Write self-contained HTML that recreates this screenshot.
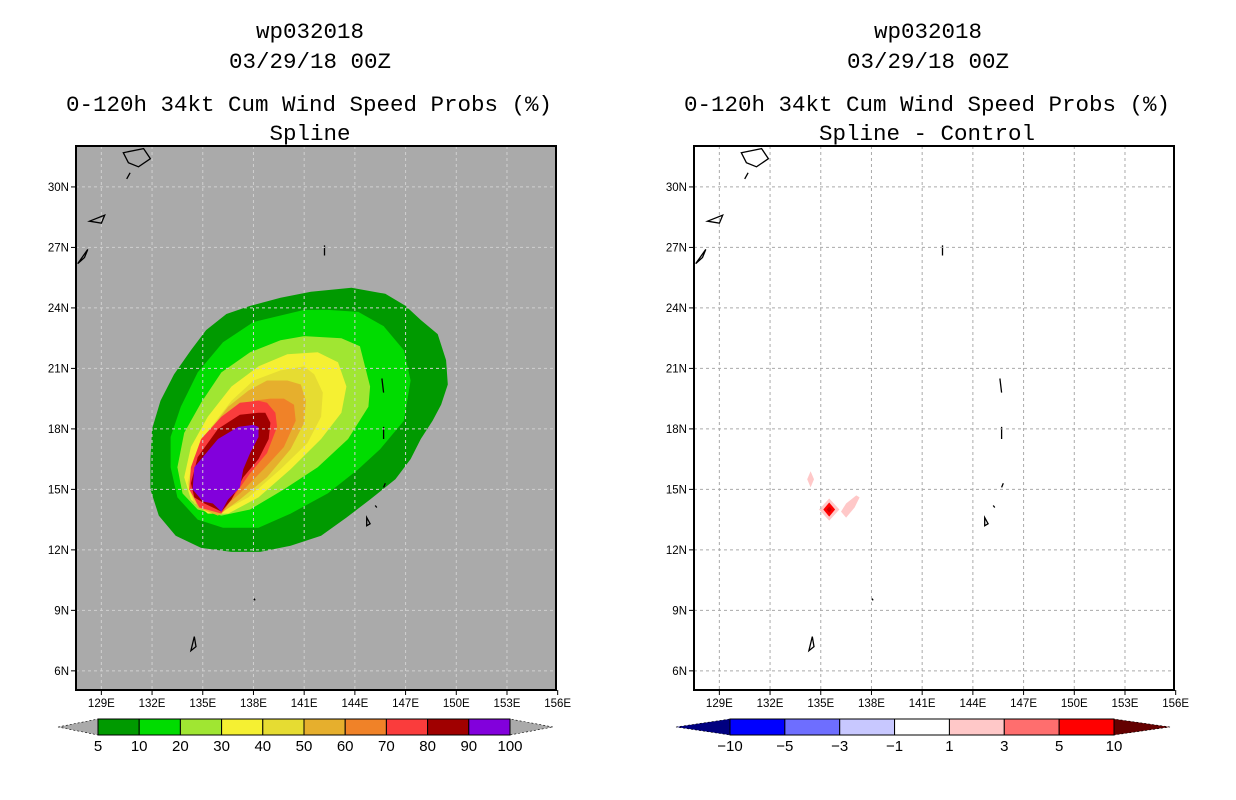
<!DOCTYPE html>
<html><head><meta charset="utf-8"><style>
html,body{margin:0;padding:0;background:#fff;}
svg{display:block;}
text{font-family:"Liberation Mono","DejaVu Sans Mono",monospace;}
text.tk{font-family:"Liberation Sans","DejaVu Sans",sans-serif;}
</style></head><body>
<svg id="fig" width="1236" height="800" viewBox="0 0 1236 800" xmlns="http://www.w3.org/2000/svg">
<g font-size="22.5" text-anchor="middle" fill="#000">
<text x="310" y="38">wp032018</text>
<text x="310" y="68">03/29/18 00Z</text>
<text x="309" y="111">0-120h 34kt Cum Wind Speed Probs (%)</text>
<text x="310" y="140">Spline</text>
</g>
<g font-size="22.5" text-anchor="middle" fill="#000">
<text x="928" y="38">wp032018</text>
<text x="928" y="68">03/29/18 00Z</text>
<text x="927" y="111">0-120h 34kt Cum Wind Speed Probs (%)</text>
<text x="927" y="140">Spline - Control</text>
</g>
<g id="left"></g>
<g id="right"></g>
<g id="cbl"></g>
<g id="cbr"></g>
</svg>
<script>
const NS="http://www.w3.org/2000/svg";
const latTicks=[30,27,24,21,18,15,12,9,6];
const lonTicks=[129,132,135,138,141,144,147,150,153,156];
const probLevels=[5,10,20,30,40,50,60,70,80,90,100];
const probColors=["#009a00","#00dc00","#a0e632","#f5f032","#e6dc32","#e6af2d","#f08228","#fa3c3c","#a00000","#8200dc"];
const diffLevels=[-10,-5,-3,-1,1,3,5,10];
const diffColors=["#0000ff","#6e6eff","#c8c8ff","#ffffff","#ffc8c8","#ff6e6e","#ff0000"];
const c5=[[143.8,25.0],[145.8,24.7],[147.0,24.1],[147.9,23.4],[148.9,22.7],[149.4,21.4],[149.5,20.2],[149.1,19.2],[148.6,18.4],[147.9,17.5],[147.3,16.5],[146.4,15.5],[144.9,14.5],[143.5,13.6],[142.0,12.7],[140.2,12.2],[138.4,11.9],[136.7,11.9],[134.9,12.1],[133.4,12.7],[132.4,13.7],[131.9,15.0],[131.9,16.5],[132.0,18.0],[132.5,19.4],[133.3,20.7],[134.3,21.9],[135.2,22.9],[136.4,23.7],[137.8,24.1],[139.6,24.5],[141.4,24.8]];
const c10=[[141.0,23.9],[138.0,23.3],[136.2,22.3],[134.7,20.8],[133.7,19.1],[133.1,17.6],[133.1,16.1],[133.5,14.6],[134.7,13.5],[136.2,13.1],[138.3,13.1],[140.2,13.8],[142.4,14.8],[144.2,16.0],[145.5,17.0],[146.9,18.4],[147.3,20.4],[146.9,21.9],[145.7,23.1],[144.2,23.8],[142.4,23.9]];
const c20=[[141.0,22.6],[139.6,22.4],[137.8,21.8],[136.1,20.8],[134.9,19.3],[133.9,17.8],[133.5,16.1],[133.8,14.8],[134.7,14.0],[136.1,13.7],[137.8,14.0],[139.8,15.0],[141.8,16.1],[143.6,17.5],[144.8,19.1],[144.9,20.1],[144.3,22.1],[143.2,22.5]];
const c30=[[141.8,21.8],[140.0,21.7],[138.3,21.1],[136.7,20.1],[135.3,18.6],[134.3,17.1],[133.9,15.6],[134.3,14.5],[135.3,13.8],[136.5,13.8],[138.3,14.6],[140.2,16.0],[142.0,17.5],[143.2,18.8],[143.5,20.1],[143.0,21.3]];
const c40=[[141.0,21.1],[139.6,20.9],[138.0,20.4],[136.7,19.4],[135.5,18.1],[134.5,16.6],[134.1,15.3],[134.5,14.3],[135.9,13.8],[137.7,14.6],[139.6,16.0],[141.2,17.3],[142.0,18.6],[142.1,19.8],[141.6,20.7]];
const c50=[[140.0,20.4],[138.8,20.4],[137.7,19.9],[136.5,19.1],[135.3,17.8],[134.5,16.5],[134.3,15.1],[134.7,14.1],[135.9,13.7],[137.2,14.5],[138.8,15.6],[140.2,17.0],[141.0,18.3],[141.1,19.4],[140.8,20.2]];
const c60=[[139.0,19.5],[138.0,19.4],[136.8,18.8],[135.7,17.8],[134.7,16.6],[134.3,15.3],[134.7,14.3],[136.1,14.0],[137.2,14.8],[138.6,16.0],[139.8,17.1],[140.5,18.4],[140.4,19.2],[139.8,19.5]];
const c70=[[138.3,19.4],[137.2,19.3],[136.1,18.6],[134.9,17.5],[134.3,16.1],[134.2,15.0],[134.8,14.1],[136.1,13.8],[136.7,14.5],[137.8,15.8],[138.8,16.8],[139.4,18.1],[139.3,18.8],[138.8,19.3]];
const c80=[[138.3,18.8],[137.2,18.7],[135.9,18.0],[134.7,16.6],[134.3,15.3],[134.5,14.6],[135.1,14.3],[136.1,13.9],[136.7,14.5],[137.4,15.6],[138.3,16.5],[138.9,17.5],[139.0,18.3],[138.7,18.8]];
const c90=[[138.0,18.2],[137.1,18.1],[135.9,17.5],[134.5,16.1],[134.4,15.0],[135.0,14.4],[135.6,14.3],[136.1,13.9],[136.5,14.5],[137.2,15.1],[137.4,16.0],[137.8,16.8],[138.3,17.6],[138.3,18.1]];
const probContours=[c5,c10,c20,c30,c40,c50,c60,c70,c80,c90];
const d1a=[[134.2,15.5],[134.4,15.9],[134.6,15.5],[134.4,15.1]];
const d1b=[[136.2,13.9],[136.5,13.6],[137.0,14.1],[137.3,14.6],[137.1,14.7],[136.5,14.3]];
const d1c=[[134.9,14.0],[135.5,14.55],[136.1,14.0],[135.5,13.45]];
const d3=[[135.15,14.0],[135.5,14.35],[135.85,14.0],[135.5,13.65]];
const d5=[[135.35,14.0],[135.5,14.15],[135.65,14.0],[135.5,13.85]];
const diffShapes=[d1a,d1b,d1c,d3,d5];
const diffShapeColors=["#ffc8c8","#ffc8c8","#ffc8c8","#ff0000","#c80000"];
const islands=[[[130.3,31.7],[131.5,31.9],[131.9,31.4],[131.2,31.0],[130.6,31.2]],[[130.5,30.4],[130.7,30.7]],[[128.3,28.3],[129.2,28.6],[129.0,28.2]],[[127.6,26.2],[128.2,26.9],[128.0,26.5]],[[142.2,27.1],[142.2,26.6]],[[144.7,13.6],[144.9,13.3],[144.7,13.2]],[[145.2,14.2],[145.3,14.1]],[[145.7,15.1],[145.8,15.3]],[[145.7,18.1],[145.7,17.5]],[[145.6,20.5],[145.7,19.8]],[[138.0,9.6],[138.1,9.5]],[[134.5,7.7],[134.6,7.2],[134.3,7.0]]];
const LON0=127.5,LON1=155.9,LAT0=5.05,LAT1=32.03;
const PW=480,PH=544,PY=146;
function el(t,a,p){const e=document.createElementNS(NS,t);for(const k in a)e.setAttribute(k,a[k]);p.appendChild(e);return e;}
function xs(px,lon){return px+(lon-LON0)/(LON1-LON0)*PW;}
function ys(lat){return PY+(LAT1-lat)/(LAT1-LAT0)*PH;}
function poly(px,pts){return pts.map(p=>xs(px,p[0]).toFixed(1)+","+ys(p[1]).toFixed(1)).join(" ");}
function panel(g,px,bg,gridCol,isProb){
  const r=el("rect",{x:px,y:PY,width:PW,height:PH,fill:bg},g);
  
  
  if(isProb){probContours.forEach((c,i)=>{const p=el("polygon",{points:poly(px,c),fill:probColors[i]},g);
    
    });}
  else{diffShapes.forEach((c,i)=>{const p=el("polygon",{points:poly(px,c),fill:diffShapeColors[i]},g);
    
    });}
  islands.forEach(s=>{const p=el("polygon",{points:poly(px,s),fill:"none",stroke:"#000","stroke-width":1.3},g);
    
    });
  latTicks.forEach(v=>{const y=ys(v);
    const l=el("line",{x1:px,x2:px+PW,y1:y,y2:y,stroke:gridCol,"stroke-width":1,"stroke-dasharray":"3,3"},g);
    
    
    el("line",{x1:px-5,x2:px,y1:y,y2:y,stroke:"#000"},g);
    const t=el("text",{x:px-7,y:y+4,"font-size":11.5,"text-anchor":"end","class":"tk"},g);t.textContent=v+"N";
    
    });
  lonTicks.forEach(v=>{const x=xs(px,v);
    if(v<156){const l=el("line",{x1:x,x2:x,y1:PY,y2:PY+PH,stroke:gridCol,"stroke-width":1,"stroke-dasharray":"3,3"},g);
    
    }
    el("line",{x1:x,x2:x,y1:PY+PH,y2:PY+PH+5,stroke:"#000"},g);
    const t=el("text",{x:x,y:PY+PH+17,"font-size":11.5,"text-anchor":"middle","class":"tk"},g);t.textContent=v+"E";
    
    });
  const f=el("rect",{x:px,y:PY,width:PW,height:PH,fill:"none",stroke:"#000","stroke-width":2},g);
  
  
}
panel(document.getElementById("left"),76,"#aaaaaa","#d0d0d0",true);
panel(document.getElementById("right"),694,"#ffffff","#aaaaaa",false);
function colorbar(g,tipL,x0,x1,tipR,cols,labels,leftCol,rightCol){
  const y0=719,y1=735,ym=727,n=cols.length,w=(x1-x0)/n;
  el("polygon",{points:`${tipL},${ym} ${x0},${y0} ${x0},${y1}`,fill:leftCol,stroke:"#000","stroke-width":0.6,"stroke-dasharray":"2,2"},g);
  el("polygon",{points:`${tipR},${ym} ${x1},${y0} ${x1},${y1}`,fill:rightCol,stroke:"#000","stroke-width":0.6,"stroke-dasharray":"2,2"},g);
  cols.forEach((c,i)=>{const r=el("rect",{x:x0+i*w,y:y0,width:w,height:y1-y0,fill:c,stroke:"#000","stroke-width":1},g);
    
    });
  labels.forEach((v,i)=>{const t=el("text",{x:x0+i*w,y:751,"font-size":15,"text-anchor":"middle","class":"tk"},g);t.textContent=String(v).replace("-","\u2212");
    
    });
}
colorbar(document.getElementById("cbl"),58,98,510,553,probColors,probLevels,"#aaaaaa","#aaaaaa");
colorbar(document.getElementById("cbr"),676,730,1114,1170,diffColors,diffLevels,"#000080","#640000");
</script>
</body></html>
